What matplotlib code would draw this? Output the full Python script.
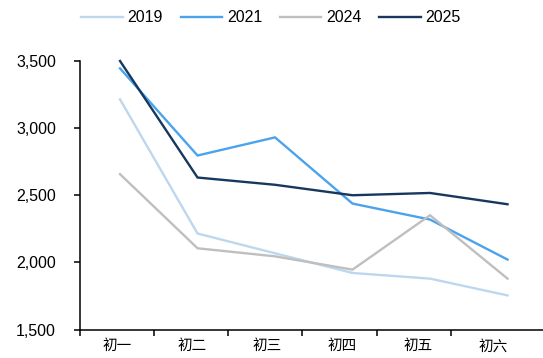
import numpy as np
import matplotlib
matplotlib.use('Agg')
import matplotlib.pyplot as plt
from matplotlib.ticker import FixedLocator, FuncFormatter

plt.rcParams['font.family'] = ['Liberation Sans', 'Noto Sans CJK SC', 'DejaVu Sans']

# data
days = ['初一', '初二', '初三', '初四', '初五', '初六']
years = ['2019', '2021', '2024', '2025']
v2019 = [3214, 2215, 2068, 1921, 1879, 1754]
v2021 = [3445, 2796, 2931, 2438, 2319, 2021]
v2024 = [2657, 2105, 2045, 1946, 2351, 1879]
v2025 = [3500, 2632, 2578, 2500, 2517, 2433]
series = [v2019, v2021, v2024, v2025]
colors = ['#bdd7ee', '#4aa3ec', '#bfbfbf', '#17375e']

W, H = 543, 358
fig = plt.figure(figsize=(W / 100, H / 100), dpi=100)
ax = fig.add_axes([79.5 / W, 1 - 329.5 / H, (W - 79.5) / W, (329.5 - 61) / H])

x = np.arange(len(days))
for vals, c, name in zip(series, colors, years):
    ax.plot(x, vals, color=c, lw=1.7, label=name, clip_on=False,
            solid_joinstyle='miter')

# the source draws lines slightly offset from the category slots
ax.set_xlim(-0.523, 5.458)
ax.set_ylim(1500, 3500)
ax.xaxis.set_major_locator(FixedLocator(-0.523 + 0.959 * np.arange(6)))
ax.xaxis.set_minor_locator(FixedLocator(-0.039 + 0.970 * np.arange(6)))
ax.xaxis.set_major_formatter(FuncFormatter(lambda v, p: ''))
ax.set_xticklabels(days, minor=True, fontsize=10.5, family=['Noto Sans CJK SC'])
ax.tick_params(axis='x', which='minor', length=0, pad=7)
ax.tick_params(axis='x', which='major', length=4, width=1.1, direction='out')

ax.set_yticks([1500, 2000, 2500, 3000, 3500])
ax.yaxis.set_major_formatter(FuncFormatter(lambda v, p: f'{v:,.0f}'))
ax.tick_params(axis='y', length=4, width=1.1, direction='out', pad=13, labelsize=11.5)

for s in ['top', 'right']:
    ax.spines[s].set_visible(False)
for s in ['left', 'bottom']:
    ax.spines[s].set_linewidth(1.1)
    ax.spines[s].set_color('black')

fig.legend(loc='center', bbox_to_anchor=(271 / W, 1 - 18 / H), ncol=4,
           frameon=False, fontsize=11.5, handlelength=2.6, handletextpad=0.3,
           columnspacing=1.1)

fig.savefig('out.png', dpi=100)
